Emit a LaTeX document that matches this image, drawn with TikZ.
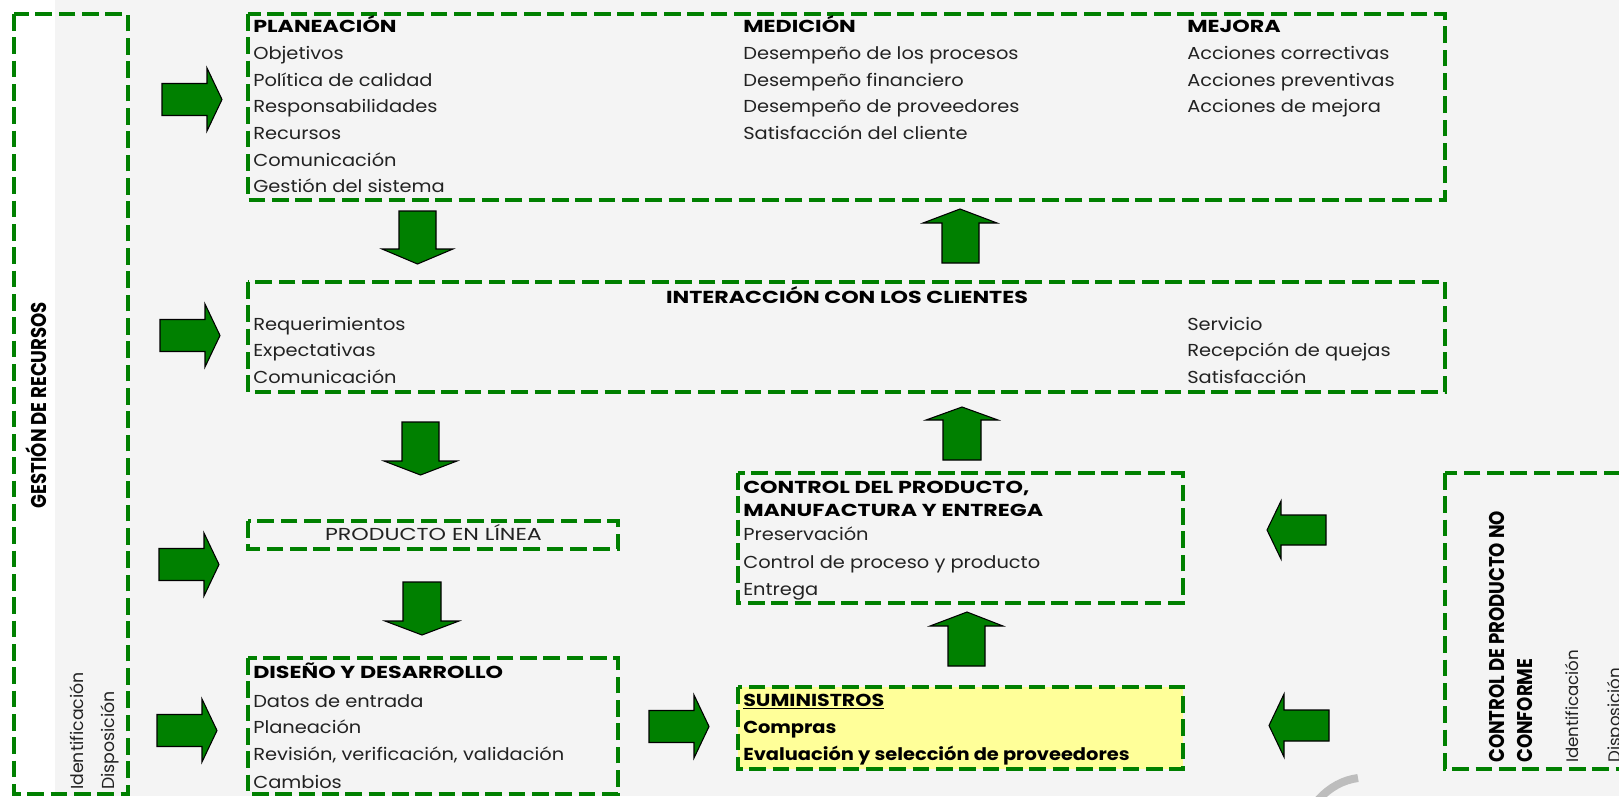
\documentclass[tikz,border=0pt]{standalone}
\usepackage{fontspec}
\setmainfont{Poppins}[FakeStretch=1.12]
\newfontfamily\capsfont{Poppins}[FakeStretch=1.28]
\newfontfamily\subfont{Poppins}[FakeStretch=1.19]
\newfontfamily\sidefont{Poppins}[FakeStretch=0.85]
\newfontfamily\plainfont{Poppins}
\usepackage{xcolor}
\definecolor{grn}{HTML}{008000}
\definecolor{bggray}{HTML}{F4F4F4}
\definecolor{sumyellow}{HTML}{FFFF99}
\definecolor{txtgray}{HTML}{222222}
\definecolor{markgray}{HTML}{BDBDBD}

\begin{document}
\begin{tikzpicture}[x=0.75pt,y=0.75pt,yscale=-1,xscale=1,
  dashbox/.style={draw=grn, line width=2.6pt, dash pattern=on 12.5pt off 5pt},
  blockarrow/.style={draw=black, fill=grn, line width=0.8pt, line join=miter},
  item/.style={anchor=base west, inner sep=0pt, text=txtgray, font=\fontsize{13}{15}\selectfont},
  head/.style={item, text=black, font=\fontsize{13}{15}\selectfont\bfseries},
  capshead/.style={item, text=black, font=\capsfont\fontsize{13}{15}\selectfont\bfseries},
  sidehead/.style={item, text=black, rotate=90, font=\sidefont\fontsize{16}{18}\selectfont\bfseries},
  sideitem/.style={item, rotate=90, font=\plainfont\fontsize{13}{15}\selectfont},
  ]
\useasboundingbox (0,0) rectangle (1619,796);
\clip (0,0) rectangle (1619,796);

%Shape: Rectangle [background]
\fill [white] (0,0) rectangle (1619,796);
\fill [bggray] (55,0) rectangle (1619,796);
%Shape: Arc [watermark]
\draw [markgray, line width=6pt] (1318,800) .. controls (1330,787) and (1343,780) .. (1358,778);

%Shape: Rectangle [recursos]
\draw [dashbox] (14,14) rectangle (128,794);
%Shape: Rectangle [direccion]
\draw [dashbox] (248,14) rectangle (1445,200);
%Shape: Rectangle [clientes]
\draw [dashbox] (248,282) rectangle (1445,392);
%Shape: Rectangle [linea]
\draw [dashbox] (248,521) rectangle (618,549);
%Shape: Rectangle [diseno]
\draw [dashbox] (248,658) rectangle (618,794);
%Shape: Rectangle [manufactura]
\draw [dashbox] (738,473) rectangle (1183,603);
%Shape: Rectangle [suministros]
\draw [dashbox, fill=sumyellow] (738,687) rectangle (1183,769);
%Shape: Rectangle [noconforme]
\draw [dashbox] (1445,473) rectangle (1645,769);

%Shape: Right Arrow
\draw [blockarrow] (162,83.5) -- (207,83.5) -- (207,68) -- (222,99.5) -- (207,131) -- (207,115.5) -- (162,115.5) -- cycle ;
%Shape: Right Arrow
\draw [blockarrow] (160,319.5) -- (205,319.5) -- (205,304) -- (220,335.5) -- (205,367) -- (205,351.5) -- (160,351.5) -- cycle ;
%Shape: Right Arrow
\draw [blockarrow] (159,548.5) -- (204,548.5) -- (204,533) -- (219,564.5) -- (204,596) -- (204,580.5) -- (159,580.5) -- cycle ;
%Shape: Right Arrow
\draw [blockarrow] (157,714.5) -- (202,714.5) -- (202,699) -- (217,730.5) -- (202,762) -- (202,746.5) -- (157,746.5) -- cycle ;
%Shape: Right Arrow
\draw [blockarrow] (649,710.5) -- (694,710.5) -- (694,695) -- (709,726.5) -- (694,758) -- (694,742.5) -- (649,742.5) -- cycle ;
%Shape: Left Arrow
\draw [blockarrow] (1326,515) -- (1281,515) -- (1281,501) -- (1267,530) -- (1281,559) -- (1281,545) -- (1326,545) -- cycle ;
%Shape: Left Arrow
\draw [blockarrow] (1329,710) -- (1284,710) -- (1284,694) -- (1269,725.5) -- (1284,757) -- (1284,741) -- (1329,741) -- cycle ;
%Shape: Down Arrow
\draw [blockarrow] (399,211) -- (436,211) -- (436,249) -- (453,249) -- (417.5,264) -- (382,249) -- (399,249) -- cycle ;
%Shape: Down Arrow
\draw [blockarrow] (402,422) -- (439,422) -- (439,461) -- (457,461) -- (420.5,475) -- (384,461) -- (402,461) -- cycle ;
%Shape: Down Arrow
\draw [blockarrow] (403,582) -- (441,582) -- (441,621) -- (459,621) -- (422,635) -- (385,621) -- (403,621) -- cycle ;
%Shape: Up Arrow
\draw [blockarrow] (942,263) -- (942,223) -- (923,223) -- (960,209) -- (997,223) -- (979,223) -- (979,263) -- cycle ;
%Shape: Up Arrow
\draw [blockarrow] (943,460) -- (943,420) -- (926,420) -- (962,407) -- (998,420) -- (981,420) -- (981,460) -- cycle ;
%Shape: Up Arrow
\draw [blockarrow] (948,666) -- (948,626) -- (930,626) -- (967,612) -- (1003,626) -- (985,626) -- (985,666) -- cycle ;

% Text Node
\node [capshead] (planeacion) at (253,32) {PLANEACIÓN};
\node [item] (objetivos) at (253,59.5) {Objetivos};
\node [item] (politica) at (253,86) {Política de calidad};
\node [item] (responsab) at (253,112.5) {Responsabilidades};
\node [item] (recursos) at (253,139) {Recursos};
\node [item] (comunic) at (253,166) {Comunicación};
\node [item] (gestsist) at (253,192.5) {Gestión del sistema};
% Text Node
\node [capshead] (medicion) at (743,32) {MEDICIÓN};
\node [item] (desproc) at (743,59.5) {Desempeño de los procesos};
\node [item] (desfin) at (743,86) {Desempeño financiero};
\node [item] (desprov) at (743,112.5) {Desempeño de proveedores};
\node [item] (satcli) at (743,139) {Satisfacción del cliente};
% Text Node
\node [capshead] (mejora) at (1187,32) {MEJORA};
\node [item] (acccorr) at (1187,59.5) {Acciones correctivas};
\node [item] (accprev) at (1187,86) {Acciones preventivas};
\node [item] (accmej) at (1187,112.5) {Acciones de mejora};

% Text Node
\node [capshead, anchor=base] (interaccion) at (847,303) {INTERACCIÓN CON LOS CLIENTES};
\node [item] (requer) at (253,330) {Requerimientos};
\node [item] (expect) at (253,356.5) {Expectativas};
\node [item] (comcli) at (253,383) {Comunicación};
\node [item] (servicio) at (1187,330) {Servicio};
\node [item] (quejas) at (1187,356.5) {Recepción de quejas};
\node [item] (satisf) at (1187,383) {Satisfacción};

% Text Node
\node [item, anchor=base, font=\capsfont\fontsize{13}{15}\selectfont] (prodlinea) at (433.5,540) {PRODUCTO EN LÍNEA};

% Text Node
\node [capshead] (diseno) at (253,678) {DISEÑO Y DESARROLLO};
\node [item] (datos) at (253,707) {Datos de entrada};
\node [item] (planea) at (253,733) {Planeación};
\node [item] (revision) at (253,760) {Revisión, verificación, validación};
\node [item] (cambios) at (253,788) {Cambios};

% Text Node
\node [capshead] (control) at (743,493) {CONTROL DEL PRODUCTO,};
\node [capshead] (manuf) at (743,516) {MANUFACTURA Y ENTREGA};
\node [item] (preserv) at (743,540) {Preservación};
\node [item] (ctrlproc) at (743,568) {Control de proceso y producto};
\node [item] (entrega) at (743,595) {Entrega};

% Text Node
\node [capshead, font=\subfont\fontsize{13}{15}\selectfont\bfseries] (suministros) at (743,706) {\underline{SUMINISTROS}};
\node [head] (compras) at (743,733) {Compras};
\node [head] (evalprov) at (743,760) {Evaluación y selección de proveedores};

% Text Node
\node [sidehead, anchor=center] (gestion) at (36,405) {GESTIÓN DE RECURSOS};
\node [sideitem] (identizq) at (83,790) {Identificación};
\node [sideitem] (dispizq) at (114,790) {Disposición};

% Text Node
\node [sidehead] (noconf) at (1504,763) {CONTROL DE PRODUCTO NO};
\node [sidehead] (conforme) at (1532,763) {CONFORME};
\node [sideitem, font=\plainfont\fontsize{12.5}{15}\selectfont] (identder) at (1578,763) {Identificación};
\node [sideitem, font=\plainfont\fontsize{12.5}{15}\selectfont] (dispder) at (1620,763) {Disposición};

\end{tikzpicture}
\end{document}
